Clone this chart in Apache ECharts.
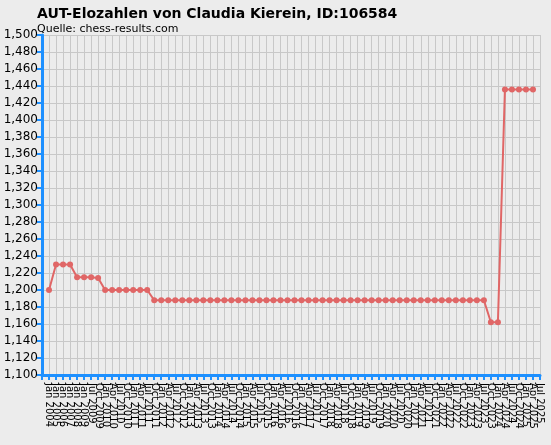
<!DOCTYPE html>
<html>
<head>
<meta charset="utf-8">
<script src="https://cdn.jsdelivr.net/npm/echarts@6/dist/echarts.min.js"></script>
<style>html,body{margin:0;padding:0;background:#ececec}#c{width:551px;height:445px}</style>
</head>
<body>
<div id="c"></div>
<script>
// yearly labels first, then quarterly
var yearlyYears = [2004, 2005, 2006, 2007, 2008, 2009];
var quarterMonths = ['Jan', 'Apr', 'Jul', 'Oct'];
var categories = [''];
yearlyYears.forEach(function (y) { categories.push('Jan ' + y); });
for (var y = 2009; y <= 2025; y++) {
  quarterMonths.forEach(function (m, i) {
    if (y == 2009 && i < 2) return;
    if (y == 2025 && i > 2) return;
    categories.push(m + ' ' + y);
  });
}

var elo = ['-', 1200, 1230, 1230, 1230, 1215, 1215, 1215, 1214,
  1200, 1200, 1200, 1200, 1200, 1200, 1200,
  1188, 1188, 1188, 1188, 1188, 1188, 1188, 1188, 1188, 1188,
  1188, 1188, 1188, 1188, 1188, 1188, 1188, 1188, 1188, 1188,
  1188, 1188, 1188, 1188, 1188, 1188, 1188, 1188, 1188, 1188,
  1188, 1188, 1188, 1188, 1188, 1188, 1188, 1188, 1188, 1188,
  1188, 1188, 1188, 1188, 1188, 1188, 1188, 1188,
  1162, 1162, 1436, 1436, 1436, 1436, 1436];

var chart = echarts.init(document.getElementById('c'));
var blue = '#1e90ff';
chart.setOption({
  backgroundColor: '#ececec',
  animation: false,
  title: {
    text: 'AUT-Elozahlen von Claudia Kierein, ID:106584',
    subtext: 'Quelle: chess-results.com',
    left: 32, top: 2, itemGap: 3,
    textStyle: { fontFamily: 'DejaVu Sans', fontSize: 14, fontWeight: 'bold', color: '#000' },
    subtextStyle: { fontFamily: 'DejaVu Sans', fontSize: 11, color: '#000' }
  },
  grid: { left: 42, right: 11, top: 35, bottom: 70 },
  xAxis: {
    type: 'category', data: categories, boundaryGap: false,
    axisLine: { lineStyle: { color: blue, width: 3 } },
    axisTick: { alignWithLabel: true, length: 5, lineStyle: { color: blue, width: 2 }, interval: 0 },
    axisLabel: { rotate: -90, interval: 0, fontSize: 10, fontFamily: 'DejaVu Sans', color: '#000', margin: 8 },
    splitLine: { show: true, interval: 0, lineStyle: { color: '#c8c8c8' } }
  },
  yAxis: {
    type: 'value', min: 1100, max: 1500, interval: 20,
    axisLine: { show: true, lineStyle: { color: blue, width: 3 } },
    axisTick: { show: true, length: 5, lineStyle: { color: blue, width: 2 } },
    axisLabel: { fontSize: 12, fontFamily: 'DejaVu Sans', color: '#000', margin: 4 },
    splitLine: { lineStyle: { color: '#c8c8c8' } }
  },
  series: [{
    type: 'line', data: elo,
    symbol: 'circle', symbolSize: 6,
    lineStyle: { color: '#e06666', width: 2 },
    itemStyle: { color: '#e06666' }
  }]
});
</script>
</body>
</html>
